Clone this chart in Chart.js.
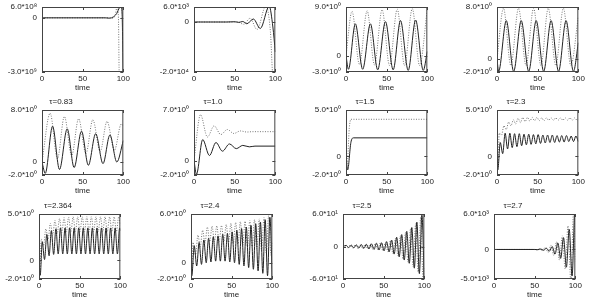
<!DOCTYPE html>
<html lang="en">
<head>
<meta charset="UTF-8">
<title>Delay system responses for several values of tau</title>
<script src="https://cdn.jsdelivr.net/npm/chart.js"></script>
<style>
  body { margin: 0; background: #fff; width: 600px; height: 300px; overflow: hidden; position: relative; }
  .panel { position: absolute; }
</style>
</head>
<body>
<script>
// panel titles (top row titles are cut off in the source)
const titles = ['', '', '', '', 'τ=0.83', 'τ=1.0', 'τ=1.5', 'τ=2.3', 'τ=2.364', 'τ=2.4', 'τ=2.5', 'τ=2.7'];
const yMin = [-3e9, -2e4, -3, -2, -2, -2, -2, -2, -2, -2, -60, -5000];
const yMax = [6e8, 6e3, 9, 8, 8, 7, 5, 5, 5, 6, 60, 6000];
const yMinLabels = ['-3.0*10⁹', '-2.0*10⁴', '-3.0*10⁰', '-2.0*10⁰', '-2.0*10⁰', '-2.0*10⁰', '-2.0*10⁰', '-2.0*10⁰', '-2.0*10⁰', '-2.0*10⁰', '-6.0*10¹', '-5.0*10³'];
const yMaxLabels = ['6.0*10⁸', '6.0*10³', '9.0*10⁰', '8.0*10⁰', '8.0*10⁰', '7.0*10⁰', '5.0*10⁰', '5.0*10⁰', '5.0*10⁰', '6.0*10⁰', '6.0*10¹', '6.0*10³'];
const timeTicks = [0, 50, 100];

// [time, value] (mostly turning points)
const solid1 = [[0,0],[78,0],[83,-2e7],[88,6e7],[92,2.5e8],[95,5.5e8],[97,6.5e8],[98.5,2e8],[99.3,-1.5e9],[100,-3.2e9]];
const dotted1 = [[0,0],[84,0],[87,-2e7],[90,1.5e8],[92.5,6.5e8],[94,0],[95,-3.2e9],[100,-3.2e9]];

const solid2 = [[0,0],[40,0],[50,100],[55,-150],[60,200],[65,-700],[73,1200],[81.5,-2600],[92.5,6300],[97,-2000],[100,-1.2e4]];
const dotted2 = [[0,0],[45,0],[53,100],[61,-900],[69,1500],[77.5,-3000],[88.5,6500],[94,-4000],[97,-2.1e4],[100,-2.1e4]];

const solid3 = [[0,0],[3,-2.5],[11.5,5.9],[20.5,-2.5],[30,5.9],[39,-2.6],[48.5,6.3],[58,-2.6],[67,6.5],[76.5,-2.7],[85.6,6.6],[95,-2.7],[100,0.8]];
const dotted3 = [[0,0],[7.4,8.2],[16.5,-1.6],[26,8.3],[35,-1.7],[44.4,8.5],[53.5,-1.8],[63,8.6],[72,-1.8],[81.5,8.7],[90.5,-1.8],[100,8.7]];

const solid4 = [[0,0],[2,-1.9],[11.4,5.9],[20.5,-1.9],[29.8,5.9],[39,-1.9],[48.2,5.9],[57.4,-1.9],[66.5,5.9],[75.7,-1.9],[84.9,5.9],[94,-1.9],[100,2.5]];
const dotted4 = [[0,0],[8,7.8],[17,-1.0],[26.5,7.8],[35.7,-1.0],[45,7.8],[54,-1.0],[63,7.8],[72.3,-1.0],[81.6,7.8],[90.8,-1.0],[100,6.5]];

const solid5 = [[0,0],[4,-1.75],[13,5.5],[21.5,-1.15],[31,5.1],[39.5,-0.85],[48.6,4.75],[57,-0.5],[66,4.35],[75,-0.25],[83.5,4.15],[92,0],[100,3.3]];
const dotted5 = [[0,0],[10,7.5],[19,0.5],[27.5,7.0],[36.5,1.0],[45,6.65],[54,1.3],[62.5,6.5],[71.5,1.6],[80,6.25],[89,1.8],[97.5,5.85],[100,5.5]];

const solid6 = [[0,0],[3,-1.9],[10.7,2.9],[19,0.7],[27,2.5],[35,1.3],[43.6,2.3],[52,1.65],[60,2.1],[68,1.9],[75,2.0],[100,2.0]];
const dotted6 = [[0,0],[8,6.35],[16.5,3.25],[24.7,4.8],[33,3.6],[41,4.3],[49,3.75],[57,4.1],[65,3.95],[72,4.0],[100,4.0]];

const solid7 = [[0,0],[2,-1.45],[6,1.5],[9,2.0],[100,2.0]];
const dotted7 = [[0,0],[1.5,-0.8],[4,3.0],[6,4.0],[100,4.0]];

const solid8 = [[0,0],[1,-1.45],[4,1.5],[7,0.3],[10,2.5],[13,0.8],[15.8,2.5],[18.7,0.95],[21.6,2.45],[24.5,1.05],[27.4,2.45],[30.3,1.15],[33.2,2.4],[36.1,1.25],[39,2.4],[41.9,1.3],[44.8,2.35],[47.7,1.35],[50.6,2.35],[53.5,1.4],[56.4,2.3],[59.3,1.45],[62.2,2.3],[65.1,1.5],[68,2.3],[70.9,1.5],[73.8,2.25],[76.7,1.55],[79.6,2.25],[82.5,1.55],[85.4,2.25],[88.3,1.6],[91.2,2.2],[94.1,1.6],[97,2.2],[100,1.6]];
const dotted8 = [[0,0],[1,-1.0],[2.8,2.5],[5.6,2.3],[8.5,3.3],[11.4,2.9],[14.3,3.7],[17.2,3.3],[20.1,3.95],[23,3.5],[25.9,4.1],[28.8,3.65],[31.7,4.2],[34.6,3.75],[37.5,4.2],[40.4,3.8],[43.3,4.2],[46.2,3.85],[49.1,4.2],[52,3.85],[54.9,4.15],[57.8,3.85],[60.7,4.15],[63.6,3.9],[66.5,4.15],[69.4,3.9],[72.3,4.15],[75.2,3.9],[78.1,4.15],[81,3.9],[83.9,4.15],[86.8,3.9],[89.7,4.15],[92.6,3.9],[95.5,4.15],[98.4,3.9],[100,4.0]];

const solid9 = [[0,0],[1.5,-1.6],[4,2.0],[6.8,0.1],[9.6,2.8],[12.4,0.5],[15.2,3.2],[18,0.65],[20.8,3.4],[23.6,0.7],[26.4,3.5],[29.2,0.7],[32,3.5],[34.8,0.7],[37.6,3.5],[40.4,0.7],[43.2,3.5],[46,0.7],[48.8,3.5],[51.6,0.7],[54.4,3.5],[57.2,0.7],[60,3.5],[62.8,0.7],[65.6,3.5],[68.4,0.7],[71.2,3.5],[74,0.7],[76.8,3.5],[79.6,0.7],[82.4,3.5],[85.2,0.7],[88,3.5],[90.8,0.7],[93.6,3.5],[96.4,0.7],[99.2,3.5],[100,3.2]];
const dotted9 = [[0,0],[1,-1.0],[2.8,2.3],[5.6,1.6],[8.4,3.4],[11.2,2.3],[14,4.0],[16.8,2.7],[19.6,4.3],[22.4,2.9],[25.2,4.5],[28,3.0],[30.8,4.6],[33.6,3.05],[36.4,4.65],[39.2,3.1],[42,4.7],[44.8,3.1],[47.6,4.7],[50.4,3.1],[53.2,4.7],[56,3.1],[58.8,4.7],[61.6,3.1],[64.4,4.7],[67.2,3.1],[70,4.7],[72.8,3.1],[75.6,4.7],[78.4,3.1],[81.2,4.7],[84,3.1],[86.8,4.7],[89.6,3.1],[92.4,4.7],[95.2,3.1],[98,4.7],[100,3.8]];

const solid10 = [[0,0],[1,-1.6],[4,2.1],[7,-0.4],[10,2.5],[12.9,-0.2],[15.8,2.8],[18.7,0],[21.6,3.0],[24.5,0.1],[27.4,3.2],[30.3,0.2],[33.2,3.3],[36.1,0.2],[39,3.5],[41.9,0.2],[44.8,3.6],[47.7,0.1],[50.6,3.8],[53.5,0],[56.4,4.0],[59.3,-0.2],[62.2,4.2],[65.1,-0.4],[68,4.4],[70.9,-0.6],[73.8,4.6],[76.7,-0.8],[79.6,4.8],[82.5,-1.0],[85.4,5.0],[88.3,-1.3],[91.2,5.3],[94.1,-1.6],[97,5.6],[100,-1.9]];
const dotted10 = [[0,0],[1,-1.0],[2.5,2.5],[5.6,1.0],[8.5,3.4],[11.4,2.0],[14.3,4.0],[17.2,2.4],[20.1,4.4],[23,2.6],[25.9,4.5],[28.8,2.6],[31.7,4.55],[34.6,2.6],[37.5,4.6],[40.4,2.55],[43.3,4.7],[46.2,2.5],[49.1,4.85],[52,2.4],[54.9,4.95],[57.8,2.3],[60.7,5.05],[63.6,2.15],[66.5,5.1],[69.4,2.0],[72.3,5.2],[75.2,1.85],[78.1,5.3],[81,1.7],[83.9,5.4],[86.8,1.5],[89.7,5.55],[92.6,1.2],[95.5,5.8],[98.4,0.9],[100,2.5]];

const solid11 = [[0,0],[4,2],[7.1,-2],[10.2,2.5],[13.3,-2.5],[16.4,3],[19.5,-3],[22.6,3.5],[25.7,-3.5],[28.8,4],[31.9,-4.5],[35,5],[38.1,-5.5],[41.2,6],[44.3,-6.5],[47.4,7],[50.5,-8],[53.6,9],[56.7,-10],[59.8,12],[62.9,-14],[66,17],[69.1,-19],[72.2,22],[75.3,-25],[78.4,28],[81.5,-31],[84.6,35],[87.7,-40],[90.8,45],[93.9,-50],[97,58],[100,-64]];
const dotted11 = [[0,0],[2.5,1.5],[5.6,-2],[8.7,2.5],[11.8,-2.5],[14.9,3],[18,-3],[21.1,3.5],[24.2,-3.5],[27.3,4],[30.4,-4],[33.5,4.5],[36.6,-5],[39.7,5.5],[42.8,-6],[45.9,6.5],[49,-7.5],[52.1,8],[55.2,-9.5],[58.3,11],[61.4,-13],[64.5,15],[67.6,-17],[70.7,20],[73.8,-23],[76.9,26],[80,-29],[83.1,33],[86.2,-37],[89.3,42],[92.4,-47],[95.5,54],[98.6,-62],[100,-40]];

const solid12 = [[0,0],[50,0],[54,-40],[57.5,70],[61,-120],[64.5,200],[68,-300],[71.5,500],[75,-800],[78.5,1100],[82,-1500],[85.5,2000],[89,-3000],[92.5,3400],[96,-4500],[99.5,6500],[100,6500]];
const dotted12 = [[0,0],[49,0],[52.5,-80],[56,150],[59.5,-250],[63,350],[66.5,-500],[70,700],[73.5,-1000],[77,1300],[80.5,-1800],[84,2300],[87.5,-3300],[91,4000],[94.5,-5500],[98,7000],[100,-2000]];

const solids = [solid1, solid2, solid3, solid4, solid5, solid6, solid7, solid8, solid9, solid10, solid11, solid12];
const dotteds = [dotted1, dotted2, dotted3, dotted4, dotted5, dotted6, dotted7, dotted8, dotted9, dotted10, dotted11, dotted12];

// frame (plot area) placement of each panel on the page
const frameX = [42, 194, 346, 497, 42, 194, 346, 497, 39, 191, 343, 494];
const frameY = [7, 7, 7, 7, 110, 110, 110, 110, 214, 214, 214, 214];
const frameW = 82, frameH = 65;
const padL = 44, padT = 14, padR = 8, padB = 26;

const font = { family: '"Liberation Sans", Arial, sans-serif', size: 8, weight: 'normal' };

// frame + small inward tics like gnuplot
const framePlugin = {
    id: 'frame',
    afterDraw(chart) {
        const { ctx, chartArea: a, scales } = chart;
        ctx.save();
        ctx.strokeStyle = '#444';
        ctx.lineWidth = 1;
        ctx.strokeRect(a.left + 0.5, a.top + 0.5, a.right - a.left - 1, a.bottom - a.top - 1);
        ctx.beginPath();
        for (const v of timeTicks) {
            const x = Math.round(scales.x.getPixelForValue(v)) + 0.5;
            ctx.moveTo(x, a.bottom); ctx.lineTo(x, a.bottom - 3);
            ctx.moveTo(x, a.top); ctx.lineTo(x, a.top + 3);
        }
        for (const t of scales.y.ticks) {
            const y = Math.round(scales.y.getPixelForValue(t.value)) + 0.5;
            ctx.moveTo(a.left, y); ctx.lineTo(a.left + 3, y);
            ctx.moveTo(a.right, y); ctx.lineTo(a.right - 3, y);
        }
        ctx.stroke();
        ctx.restore();
    }
};

function toPoints(arr) {
    return arr.map(p => ({ x: p[0], y: p[1] }));
}

for (let i = 0; i < 12; i++) {
    const w = padL + frameW + padR;
    const h = padT + frameH + padB;
    const div = document.createElement('div');
    div.className = 'panel';
    div.style.left = (frameX[i] - padL) + 'px';
    div.style.top = (frameY[i] - padT) + 'px';
    const cv = document.createElement('canvas');
    cv.width = w; cv.height = h;
    cv.style.width = w + 'px'; cv.style.height = h + 'px';
    div.appendChild(cv);
    document.body.appendChild(div);

    new Chart(cv, {
        type: 'line',
        data: {
            datasets: [
                {
                    data: toPoints(solids[i]),
                    borderColor: '#222',
                    borderWidth: 1,
                    pointRadius: 0,
                    cubicInterpolationMode: 'monotone'
                },
                {
                    data: toPoints(dotteds[i]),
                    borderColor: '#777',
                    borderWidth: 1,
                    borderDash: [1, 1.5],
                    pointRadius: 0,
                    cubicInterpolationMode: 'monotone'
                }
            ]
        },
        plugins: [framePlugin],
        options: {
            responsive: false,
            animation: false,
            events: [],
            devicePixelRatio: 1,
            layout: { padding: { left: 0, top: 0, right: padR, bottom: 0 } },
            plugins: {
                legend: { display: false },
                tooltip: { enabled: false },
                title: {
                    display: true,
                    text: titles[i],
                    color: '#222',
                    font: font,
                    padding: { top: 1, bottom: 3.4 }
                }
            },
            scales: {
                x: {
                    type: 'linear',
                    min: 0, max: 100,
                    afterBuildTicks: s => { s.ticks = timeTicks.map(v => ({ value: v })); },
                    afterFit: s => { s.height = padB; },
                    grid: { display: false, drawTicks: false },
                    border: { display: false },
                    ticks: { color: '#222', font: font, padding: 2, maxRotation: 0 },
                    title: { display: true, text: 'time', color: '#222', font: font, padding: { top: 0, bottom: 5 } }
                },
                y: {
                    min: yMin[i], max: yMax[i],
                    afterBuildTicks: s => { s.ticks = [yMin[i], 0, yMax[i]].map(v => ({ value: v })); },
                    afterFit: s => { s.width = padL; },
                    grid: { display: false, drawTicks: false },
                    border: { display: false },
                    ticks: {
                        color: '#222', font: font, padding: 5,
                        callback: v => v === yMin[i] ? yMinLabels[i] : (v === yMax[i] ? yMaxLabels[i] : '0')
                    }
                }
            }
        }
    });
}
</script>
</body>
</html>
